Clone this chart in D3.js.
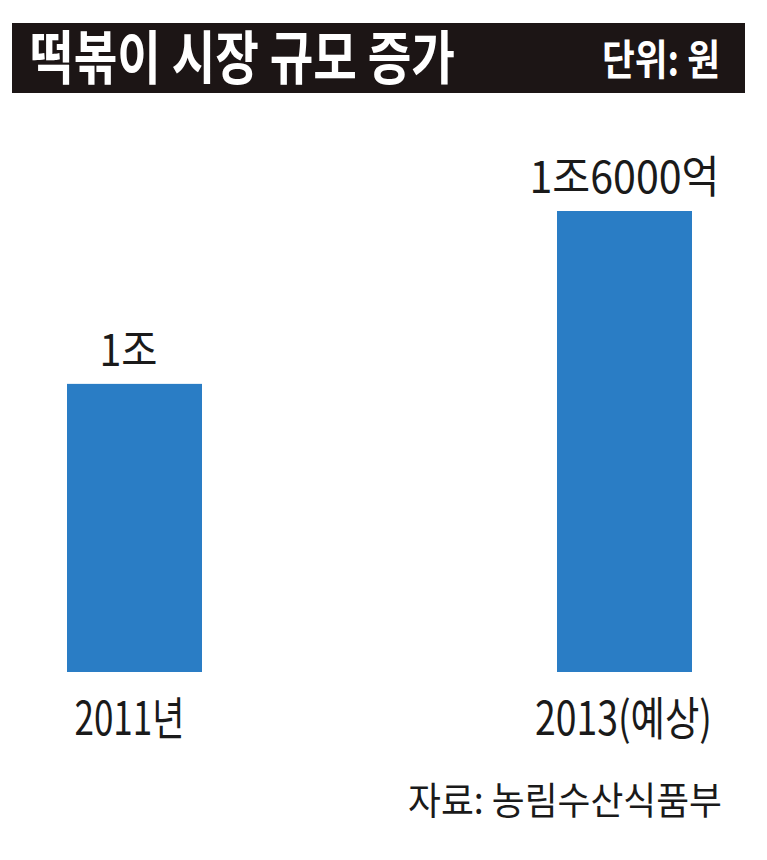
<!DOCTYPE html>
<html><head><meta charset="utf-8">
<script src="https://cdn.jsdelivr.net/npm/d3@7"></script>
<style>body{margin:0;background:#fff}svg{display:block}</style>
</head><body>
<script>
const categories = ["2011년", "2013(예상)"];
const values = [10000, 16000]; // 억 원
const valueLabels = ["1조", "1조6000억"];
const title = "떡볶이 시장 규모 증가";
const unitText = "단위: 원";
const sourceText = "자료: 농림수산식품부";

const W = 767, H = 860;
const svg = d3.select("body").append("svg").attr("width", W).attr("height", H);
const font = "'Noto Sans CJK KR', 'Liberation Sans', sans-serif";

// title bar
svg.append("rect").attr("x", 12).attr("y", 23).attr("width", 733).attr("height", 70).attr("fill", "#1c1515");
svg.append("text").attr("x", 30).attr("y", 79).text(title)
  .attr("fill", "#fff").attr("font-family", font).attr("font-weight", 700).attr("font-size", 58)
  .attr("textLength", 425).attr("lengthAdjust", "spacingAndGlyphs");
svg.append("text").attr("x", 602).attr("y", 75).text(unitText)
  .attr("fill", "#fff").attr("font-family", font).attr("font-weight", 700).attr("font-size", 42)
  .attr("textLength", 118).attr("lengthAdjust", "spacingAndGlyphs");

const x = d3.scaleBand().domain(categories).range([67, 692]).paddingInner(0.7245).paddingOuter(0);
const y = d3.scaleLinear().domain([0, 16000]).range([672, 211]);

const g = svg.append("g");
g.selectAll("rect.bar").data(values).join("rect").attr("class", "bar")
  .attr("x", (d, i) => x(categories[i])).attr("width", x.bandwidth())
  .attr("y", d => y(d)).attr("height", d => y(0) - y(d)).attr("fill", "#2a7dc5");

const labelW = [58, 190];
const labelDx = [-6, 0];
g.selectAll("text.val").data(values).join("text").attr("class", "val")
  .attr("x", (d, i) => x(categories[i]) + x.bandwidth() / 2 + labelDx[i])
  .attr("y", d => y(d) - 18)
  .attr("text-anchor", "middle").text((d, i) => valueLabels[i])
  .attr("fill", "#1a1a1a").attr("font-family", font).attr("font-weight", 400).attr("font-size", 44)
  .attr("textLength", (d, i) => labelW[i]).attr("lengthAdjust", "spacingAndGlyphs");

const catW = [110, 177];
const catDx = [-5, -1];
g.selectAll("text.cat").data(categories).join("text").attr("class", "cat")
  .attr("x", (d, i) => x(d) + x.bandwidth() / 2 + catDx[i])
  .attr("y", 735).attr("text-anchor", "middle").text(d => d)
  .attr("fill", "#1a1a1a").attr("font-family", font).attr("font-weight", 400).attr("font-size", 46)
  .attr("textLength", (d, i) => catW[i]).attr("lengthAdjust", "spacingAndGlyphs");

svg.append("text").attr("x", 408).attr("y", 814).text(sourceText)
  .attr("fill", "#1a1a1a").attr("font-family", font).attr("font-weight", 400).attr("font-size", 38)
  .attr("textLength", 314).attr("lengthAdjust", "spacingAndGlyphs");
</script>
</body></html>
